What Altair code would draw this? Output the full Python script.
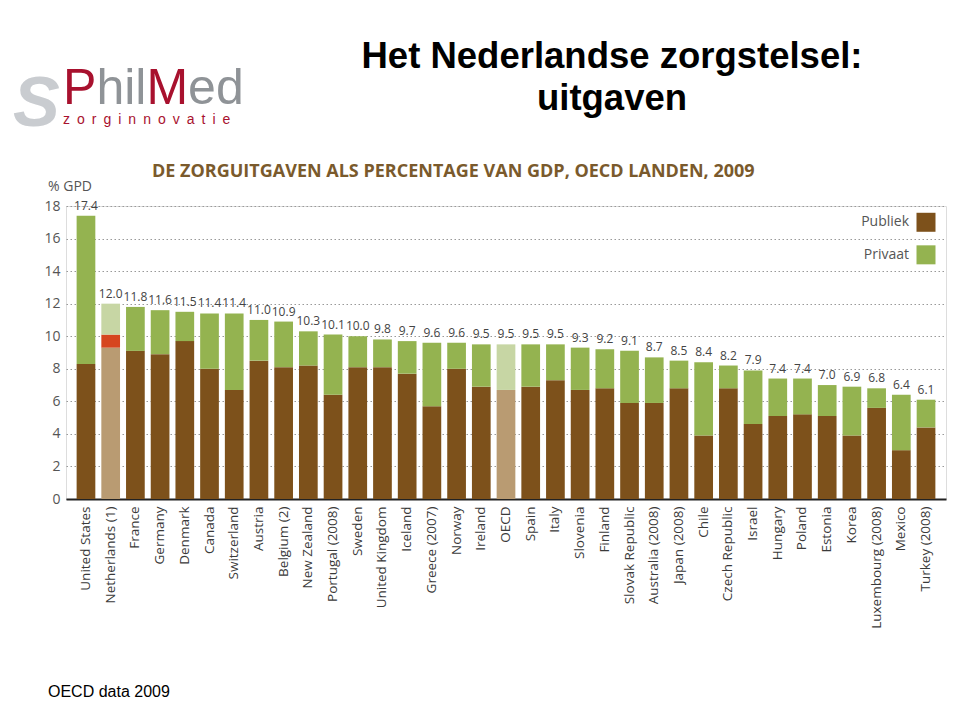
import altair as alt
import pandas as pd

countries = ["United States", "Netherlands (1)", "France", "Germany", "Denmark", "Canada",
             "Switzerland", "Austria", "Belgium (2)", "New Zealand", "Portugal (2008)", "Sweden",
             "United Kingdom", "Iceland", "Greece (2007)", "Norway", "Ireland", "OECD", "Spain",
             "Italy", "Slovenia", "Finland", "Slovak Republic", "Australia (2008)", "Japan (2008)",
             "Chile", "Czech Republic", "Israel", "Hungary", "Poland", "Estonia", "Korea",
             "Luxembourg (2008)", "Mexico", "Turkey (2008)"]
total = [17.4, 12.0, 11.8, 11.6, 11.5, 11.4, 11.4, 11.0, 10.9, 10.3, 10.1, 10.0, 9.8, 9.7, 9.6,
         9.6, 9.5, 9.5, 9.5, 9.5, 9.3, 9.2, 9.1, 8.7, 8.5, 8.4, 8.2, 7.9, 7.4, 7.4, 7.0, 6.9,
         6.8, 6.4, 6.1]
public = [8.3, 9.3, 9.1, 8.9, 9.7, 8.0, 6.7, 8.5, 8.1, 8.2, 6.4, 8.1, 8.1, 7.7, 5.7, 8.0, 6.9,
          6.7, 6.9, 7.3, 6.7, 6.8, 5.9, 5.9, 6.8, 3.9, 6.8, 4.6, 5.1, 5.2, 5.1, 3.9, 5.6, 3.0, 4.4]
highlight = ["Netherlands (1)", "OECD"]
extra = {"Netherlands (1)": 0.8}
y_ticks = [0, 2, 4, 6, 8, 10, 12, 14, 16, 18]

seg_kinds = ["pub", "priv", "pub_light", "priv_light", "extra"]
seg_colors = ["#7d511b", "#94b350", "#b99b72", "#c7d6a4", "#d6461f"]

rows = []
for c, t, p in zip(countries, total, public):
    hl = c in highlight
    rows.append({"country": c, "kind": "pub_light" if hl else "pub", "y0": 0.0, "y1": p})
    top = p
    if c in extra:
        rows.append({"country": c, "kind": "extra", "y0": p, "y1": p + extra[c]})
        top = p + extra[c]
    rows.append({"country": c, "kind": "priv_light" if hl else "priv", "y0": top, "y1": t})
seg_df = pd.DataFrame(rows)
tot_df = pd.DataFrame({"country": countries, "total": total})
leg_df = pd.DataFrame({"label": ["Publiek", "Privaat"], "yv": [17.0, 15.0], "kind": ["pub", "priv"]})

FONT = "Open Sans"
xaxis = alt.Axis(title=None, labelAngle=270, labelFontSize=13.5, labelColor="#3a3a3a",
                 labelFont=FONT, domainColor="#222", domainWidth=2, ticks=False,
                 labelPadding=7, labelLimit=300)
xscale = alt.Scale(paddingInner=0.243, paddingOuter=0.43)
yaxis = alt.Axis(title=None, values=y_ticks, grid=True, gridDash=[1.5, 2.5],
                 gridColor="#999999", gridWidth=1, domain=False, ticks=False,
                 labelOverlap=False, labelFontSize=14, labelColor="#555",
                 labelFont=FONT, labelPadding=6)
yscale = alt.Scale(domain=[0, 18], nice=False)
color = alt.Color("kind:N", scale=alt.Scale(domain=seg_kinds, range=seg_colors), legend=None)

bars = alt.Chart(seg_df).mark_bar().encode(
    x=alt.X("country:N", sort=countries, scale=xscale, axis=xaxis),
    y=alt.Y("y0:Q", scale=yscale, axis=yaxis),
    y2="y1:Q",
    color=color,
)

labels = alt.Chart(tot_df).mark_text(baseline="bottom", dy=-3, fontSize=12, color="#444", font=FONT).encode(
    x=alt.X("country:N", sort=countries, scale=xscale, axis=xaxis),
    y=alt.Y("total:Q", scale=yscale, axis=yaxis),
    text=alt.Text("total:Q", format=".1f"),
)

leg_sq = alt.Chart(leg_df).mark_square(size=361, opacity=1).encode(
    x=alt.value(860), y=alt.Y("yv:Q", scale=yscale, axis=yaxis), color=color)
leg_tx = alt.Chart(leg_df).mark_text(align="right", baseline="middle", fontSize=14, color="#555", font=FONT).encode(
    x=alt.value(843), y=alt.Y("yv:Q", scale=yscale, axis=yaxis), text="label:N")


def deco(txt, x, y, **kw):
    return alt.Chart(pd.DataFrame({"t": [txt]})).mark_text(**kw).encode(
        x=alt.value(x), y=alt.value(y), text="t:N")


decos = [
    deco("Het Nederlandse zorgstelsel:", 546, -138, align="center", baseline="alphabetic",
         font="Liberation Sans", fontWeight="bold", fontSize=36.5, color="#000"),
    deco("uitgaven", 546, -96, align="center", baseline="alphabetic",
         font="Liberation Sans", fontWeight="bold", fontSize=36.5, color="#000"),
    deco("DE ZORGUITGAVEN ALS PERCENTAGE VAN GDP, OECD LANDEN, 2009", 86, -34, align="left",
         baseline="middle", font=FONT, fontWeight="bold", fontSize=18, color="#7a5a2c"),
    deco("% GPD", -18, -19, align="left", baseline="middle", font=FONT, fontSize=14, color="#555"),
    deco("OECD data 2009", -18, 491, align="left", baseline="alphabetic",
         font="Liberation Sans", fontSize=16, color="#000"),
    deco("S", -53, -80, align="left", baseline="alphabetic", font="Liberation Sans",
         fontWeight="bold", fontStyle="italic", fontSize=70, color="#c9ccd0"),
    deco("P", -3, -102, align="left", baseline="alphabetic", font="Liberation Sans",
         fontSize=50, color="#a8112e"),
    deco("hil", 30.4, -102, align="left", baseline="alphabetic", font="Liberation Sans",
         fontSize=50, color="#8f9397"),
    deco("M", 80.4, -102, align="left", baseline="alphabetic", font="Liberation Sans",
         fontSize=50, color="#a8112e"),
    deco("ed", 122.1, -102, align="left", baseline="alphabetic", font="Liberation Sans",
         fontSize=50, color="#8f9397"),
    deco("\u2002".join("zorginnovatie"), -3, -82, align="left", baseline="alphabetic",
         font="Liberation Sans", fontSize=14, color="#a8112e"),
]

chart = alt.layer(bars, labels, leg_sq, leg_tx, *decos).properties(
    width=880, height=293,
    padding={"left": 58, "top": 198, "right": 5, "bottom": 213},
    autosize=alt.AutoSizeParams(type="none"),
).configure_view(stroke=None).configure(background="#ffffff")

chart.save("out.html", embed_options={"renderer": "svg", "actions": False})
